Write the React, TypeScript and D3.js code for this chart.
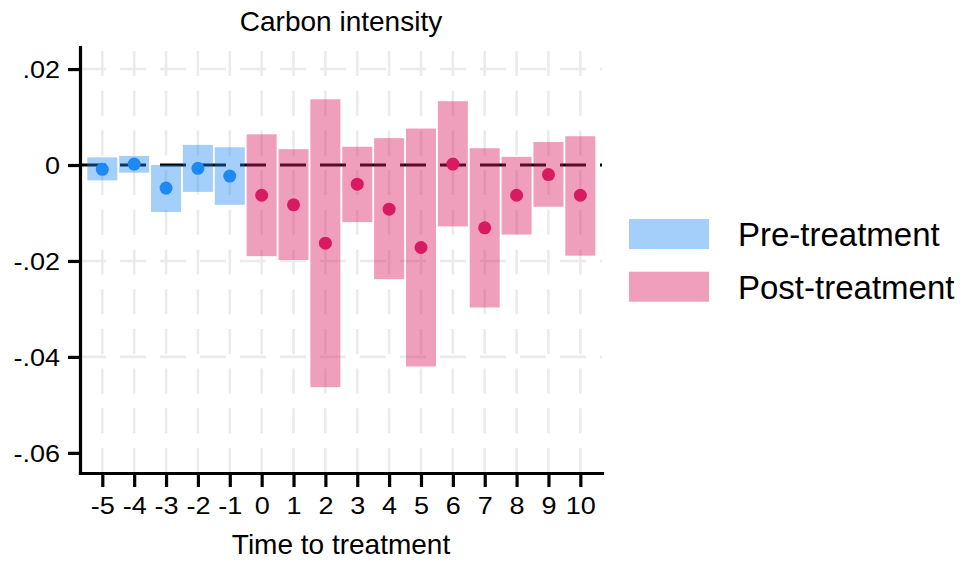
import React, { useEffect, useRef } from 'react';
import * as d3 from 'd3';

// event-study estimates
const periods = [-5, -4, -3, -2, -1, 0, 1, 2, 3, 4, 5, 6, 7, 8, 9, 10];
const coef = [-0.0009, 0.0002, -0.0048, -0.0007, -0.0023, -0.0063, -0.0083, -0.0163, -0.004, -0.0092, -0.0172, 0.0002, -0.0131, -0.0063, -0.002, -0.0063];
const ciLow = [-0.0032, -0.0016, -0.0098, -0.0056, -0.0083, -0.019, -0.0198, -0.0463, -0.0119, -0.0238, -0.042, -0.0128, -0.0297, -0.0145, -0.0087, -0.0189];
const ciHigh = [0.0016, 0.0019, 0.0, 0.0042, 0.0037, 0.0064, 0.0033, 0.0137, 0.0038, 0.0056, 0.0076, 0.0133, 0.0035, 0.0017, 0.0048, 0.006];
const yTicks = [0.02, 0, -0.02, -0.04, -0.06];
const yTickLabels = ['.02', '0', '-.02', '-.04', '-.06'];
const gridY = [0.02, -0.02, -0.04];
const legendLabels = ['Pre-treatment', 'Post-treatment'];

const FONT = '"Liberation Sans", Arial, sans-serif';

const App = () => {
    const svgRef = useRef<SVGSVGElement>(null);

    useEffect(() => {
        const svg = d3.select(svgRef.current);
        svg.selectAll('*').remove();
        const width = 971;
        const height = 562;
        svg.attr('width', width).attr('height', height);

        const left = 80, right = 602, top = 47, bottom = 473;
        const x = d3.scaleLinear().domain([-5.7, 10.68]).range([left, right]);
        const y = d3.scaleLinear().domain([-0.0642, 0.0246]).range([bottom, top]);

        const blue = '#1e88f5';
        const pink = '#d81b60';
        const color = (p: number) => (p < 0 ? blue : pink);

        const data = periods.map((p, i) => ({ p, b: coef[i], lo: ciLow[i], hi: ciHigh[i] }));

        // grid
        const grid = svg.append('g')
            .attr('stroke', '#ebebeb')
            .attr('stroke-width', 2.6)
            .attr('fill', 'none');
        grid.selectAll('.vg')
            .data(periods)
            .join('line')
            .attr('x1', d => x(d)).attr('x2', d => x(d))
            .attr('y1', bottom).attr('y2', top)
            .attr('stroke-dasharray', '25,14.7');
        grid.selectAll('.hg')
            .data(gridY)
            .join('line')
            .attr('x1', left).attr('x2', right)
            .attr('y1', d => y(d)).attr('y2', d => y(d))
            .attr('stroke-dasharray', '26,14');

        // zero line
        svg.append('line')
            .attr('x1', left).attr('x2', right)
            .attr('y1', y(0)).attr('y2', y(0))
            .attr('stroke', '#000')
            .attr('stroke-width', 2.8)
            .attr('stroke-dasharray', '26,14');

        // CI bars
        const bw = 30;
        svg.append('g').selectAll('rect')
            .data(data)
            .join('rect')
            .attr('x', d => x(d.p) - bw / 2)
            .attr('y', d => y(d.hi))
            .attr('width', bw)
            .attr('height', d => y(d.lo) - y(d.hi))
            .attr('fill', d => color(d.p))
            .attr('fill-opacity', d => (d.p < 0 ? 0.4 : 0.42));

        // point estimates
        svg.append('g').selectAll('circle')
            .data(data)
            .join('circle')
            .attr('cx', d => x(d.p))
            .attr('cy', d => y(d.b))
            .attr('r', 6.5)
            .attr('fill', d => color(d.p));

        // axes (tick labels are a bit wider than Arial in the original, so stretch them)
        const sx = 1.15;
        const yAxis = svg.append('g')
            .attr('transform', `translate(${left},0)`)
            .call(d3.axisLeft(y).tickValues(yTicks).tickSize(12).tickSizeOuter(0).tickPadding(7)
                .tickFormat((d, i) => yTickLabels[i]));
        const xAxis = svg.append('g')
            .attr('transform', `translate(0,${bottom})`)
            .call(d3.axisBottom(x).tickValues(periods).tickSize(14).tickSizeOuter(0).tickPadding(10)
                .tickFormat(d => String(d)));
        [yAxis, xAxis].forEach(a => {
            a.select('.domain').attr('stroke', '#000').attr('stroke-width', 3.2).attr('stroke-linecap', 'square');
            a.selectAll('.tick line').attr('stroke', '#000').attr('stroke-width', 3.2);
            a.selectAll('.tick text')
                .attr('fill', '#000')
                .attr('transform', `scale(${sx},1)`)
                .style('font-family', FONT).style('font-size', '23.5px');
        });
        yAxis.selectAll('.tick text').attr('dy', '0.35em').attr('x', -20 / sx);

        // titles
        svg.append('text')
            .attr('x', (left + right) / 2).attr('y', 31)
            .attr('text-anchor', 'middle')
            .style('font-family', FONT).style('font-size', '28px')
            .text('Carbon intensity');
        svg.append('text')
            .attr('x', (left + right) / 2).attr('y', 554)
            .attr('text-anchor', 'middle')
            .style('font-family', FONT).style('font-size', '28px')
            .text('Time to treatment');

        // legend
        const legend = svg.append('g');
        legendLabels.forEach((lab, i) => {
            legend.append('rect')
                .attr('x', 629).attr('y', 219 + i * 52.7)
                .attr('width', 80).attr('height', 30)
                .attr('fill', i === 0 ? blue : pink)
                .attr('fill-opacity', i === 0 ? 0.4 : 0.42);
            legend.append('text')
                .attr('x', 738).attr('y', 246 + i * 53)
                .style('font-family', FONT).style('font-size', '33px')
                .text(lab);
        });
    }, []);

    return <svg ref={svgRef} style={{ position: 'absolute', left: 0, top: 0, background: '#fff' }}></svg>;
};

export default App;
